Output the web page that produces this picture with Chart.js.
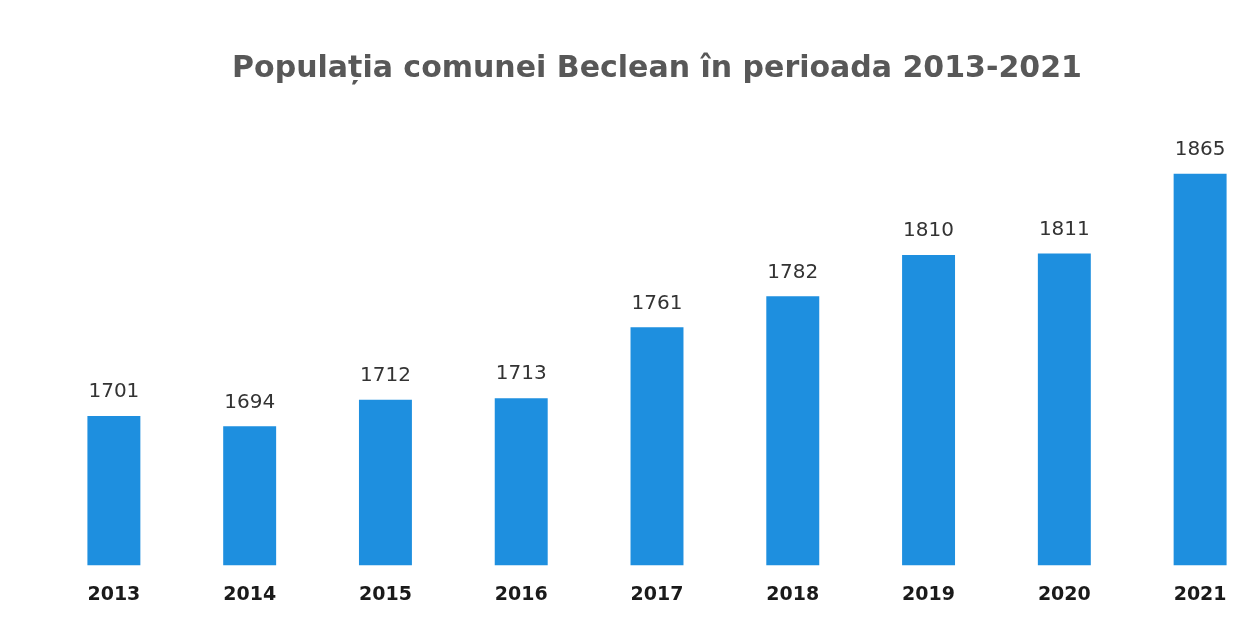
<!DOCTYPE html>
<html>
<head>
<meta charset="utf-8">
<script src="https://cdn.jsdelivr.net/npm/chart.js@4"></script>
<style>
  body { margin: 0; background: #fff; overflow: hidden; }
  canvas { display: block; }
</style>
</head>
<body>
<canvas id="popChart" width="1320" height="624"></canvas>
<script>
var years = ['2013', '2014', '2015', '2016', '2017', '2018', '2019', '2020', '2021'];
var population = [1701, 1694, 1712, 1713, 1761, 1782, 1810, 1811, 1865];
var chartTitle = 'Populația comunei Beclean în perioada 2013-2021';

// draws the value above each bar (no datalabels plugin offline)
var barValues = {
  id: 'barValues',
  afterDatasetsDraw: function(chart) {
    var ctx = chart.ctx;
    var meta = chart.getDatasetMeta(0);
    ctx.save();
    ctx.font = '20px "DejaVu Sans"';
    ctx.fillStyle = '#333333';
    ctx.textAlign = 'center';
    ctx.textBaseline = 'middle';
    meta.data.forEach(function(bar, i) {
      ctx.fillText(chart.data.datasets[0].data[i], bar.x, bar.y - 24);
    });
    ctx.restore();
  }
};

var ctx = document.getElementById('popChart');
var myChart = new Chart(ctx, {
  type: 'bar',
  data: {
    labels: years,
    datasets: [{
      data: population,
      backgroundColor: '#1E8FDF',
      categoryPercentage: 1,
      barPercentage: 0.39
    }]
  },
  options: {
    responsive: false,
    animation: false,
    layout: { padding: { left: 46, right: 52, top: 0, bottom: 0 } },
    plugins: {
      legend: { display: false },
      tooltip: { enabled: false },
      title: {
        display: true,
        text: chartTitle,
        fullSize: false,
        color: '#585858',
        font: { family: 'DejaVu Sans', size: 30, weight: 'bold' },
        padding: { top: 51, bottom: 35 }
      }
    },
    scales: {
      x: {
        grid: { display: false, drawTicks: false },
        border: { display: false },
        ticks: {
          color: '#1a1a1a',
          padding: 18,
          font: { family: 'DejaVu Sans', size: 19, weight: 'bold' }
        }
      },
      y: {
        display: false,
        min: 1600,
        max: 1900
      }
    }
  },
  plugins: [barValues]
});
</script>
</body>
</html>
